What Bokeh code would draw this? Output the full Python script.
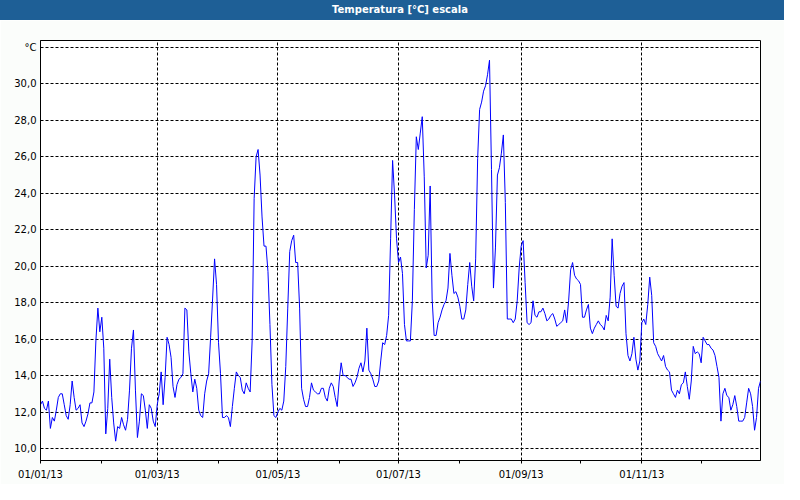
import numpy as np
import pandas as pd
from bokeh.plotting import figure
from bokeh.models import FixedTicker, Range1d, Div
from bokeh.layouts import column
from bokeh.embed import file_html
from bokeh.resources import INLINE

# Daily temperatures (°C), 2013
jan = [12.4, 12.6, 12.2, 12.1, 12.6, 11.1, 11.7, 11.5, 12.1, 12.8, 13.0, 13.0, 12.4, 11.8, 11.6, 12.4,
       13.7, 12.8, 12.1, 12.2, 12.4, 11.4, 11.2, 11.5, 11.9, 12.5, 12.5, 13.1, 15.9, 17.7, 16.4]
feb = [17.2, 15.5, 10.8, 12.2, 14.9, 12.8, 11.4, 10.4, 11.2, 11.1, 11.7, 11.3, 11.0, 11.6, 13.2, 15.5,
       16.5, 13.2, 10.6, 11.5, 13.0, 12.9, 12.1, 11.1, 12.4, 12.2, 11.5, 11.2]
mar = [12.4, 13.0, 14.2, 12.4, 13.9, 16.1, 15.7, 15.0, 13.4, 12.8, 13.5, 13.8, 13.9, 14.1, 17.7, 17.6,
       15.3, 14.1, 13.1, 13.8, 13.3, 12.1, 11.8, 11.7, 13.0, 13.7, 14.1, 16.1, 18.2, 20.4, 19.0]
apr = [15.8, 14.1, 11.7, 11.7, 11.8, 11.7, 11.2, 12.3, 13.3, 14.2, 14.0, 13.9, 13.2, 13.0, 13.6, 13.3,
       13.1, 15.9, 23.7, 26.0, 26.4, 25.0, 22.7, 21.1, 21.1, 19.7, 16.8, 13.5, 11.8, 11.7]
may = [12.0, 12.2, 12.1, 12.6, 14.5, 17.7, 20.8, 21.4, 21.7, 20.2, 20.2, 17.7, 13.3, 12.7, 12.3, 12.3,
       12.8, 13.6, 13.2, 13.1, 13.0, 13.0, 13.3, 13.3, 12.8, 12.6, 13.3, 13.6, 13.4, 12.8, 12.3]
jun = [13.7, 14.7, 14.0, 14.0, 13.9, 13.8, 13.8, 13.4, 13.6, 13.9, 14.4, 14.7, 14.2, 14.8, 16.6, 14.3,
       14.1, 13.8, 13.4, 13.4, 13.7, 14.8, 15.8, 15.7, 16.2, 17.3, 21.5, 25.8, 23.9, 21.5]
jul = [20.2, 20.5, 19.6, 16.8, 15.9, 15.9, 15.9, 18.1, 23.1, 27.1, 26.4, 27.3, 28.2, 24.9, 19.9, 20.6,
       24.4, 18.2, 16.2, 16.2, 16.9, 17.2, 17.6, 17.9, 18.1, 18.8, 20.7, 19.5, 18.5, 18.6, 18.3]
aug = [17.8, 17.1, 17.1, 17.6, 19.0, 20.2, 18.9, 18.1, 20.4, 25.9, 28.6, 29.0, 29.6, 29.9, 30.5, 31.3,
       25.3, 18.8, 21.0, 25.0, 25.4, 26.2, 27.2, 23.5, 17.1, 17.1, 17.1, 16.9, 17.1, 18.1, 19.9]
sep = [21.1, 21.4, 19.1, 16.9, 16.8, 16.9, 18.1, 17.3, 17.2, 17.5, 17.5, 17.7, 17.4, 17.0, 17.1, 17.3,
       17.4, 17.1, 16.7, 16.8, 16.9, 17.0, 17.6, 16.9, 18.1, 19.8, 20.2, 19.5, 19.3, 19.2]
oct_ = [19.0, 17.2, 17.2, 17.6, 17.9, 16.6, 16.3, 16.6, 16.8, 17.0, 16.8, 16.7, 16.5, 17.3, 17.0, 18.3,
        21.5, 19.5, 17.8, 17.7, 18.5, 18.9, 19.1, 16.3, 15.1, 14.8, 15.2, 16.1, 14.9, 14.3, 14.8]
nov = [16.9, 17.1, 16.8, 17.9, 19.4, 18.4, 15.8, 15.6, 15.2, 15.0, 14.8, 15.1, 14.5, 14.3, 14.2, 13.2,
       13.0, 12.8, 13.2, 13.0, 13.5, 13.6, 14.2, 13.4, 12.7, 13.7, 15.6, 15.2, 15.3, 15.2]
dec = [14.7, 16.1, 15.9, 15.7, 15.7, 15.5, 15.4, 15.1, 14.5, 13.9, 11.5, 13.0, 13.3, 12.9, 12.8, 12.1,
       12.4, 12.9, 12.3, 11.5, 11.5, 11.5, 11.7, 12.5, 13.3, 13.0, 12.3, 11.0, 11.7, 13.3, 13.7]

y_ticks = [10, 12, 14, 16, 18, 20, 22, 24, 26, 28, 30, 32]
y_labels = ["10,0", "12,0", "14,0", "16,0", "18,0", "20,0", "22,0", "24,0", "26,0", "28,0", "30,0", "°C"]
title_text = "Temperatura [°C] escala"

temps = jan + feb + mar + apr + may + jun + jul + aug + sep + oct_ + nov + dec
dates = pd.date_range("2013-01-01", periods=len(temps), freq="D")
x = np.arange(len(temps))

month_starts = [int(i) for i, d in enumerate(dates) if d.day == 1]
month_labels = [dates[i].strftime("%d/%m/%y") for i in month_starts]

FONT = "DejaVu Sans"

p = figure(width=784, height=464, output_backend="svg", toolbar_location=None,
           x_range=Range1d(0, len(temps) - 1), y_range=Range1d(9.34, 32.38),
           min_border_left=40, min_border_right=24, min_border_top=20, min_border_bottom=24)
p.background_fill_color = "white"
p.border_fill_color = "#fbfdfb"
p.outline_line_color = "black"
p.outline_line_width = 1

p.line(x, temps, line_color="#0000ff", line_width=1)

# x axis
p.xaxis.ticker = FixedTicker(ticks=month_starts)
p.xaxis.major_label_overrides = {ms: (lab if k % 2 == 0 else "")
                                 for k, (ms, lab) in enumerate(zip(month_starts, month_labels))}
p.xaxis.major_tick_out = 3
p.xaxis.major_tick_in = 0
p.xaxis.minor_tick_line_color = None
p.xaxis.major_label_standoff = 5
p.xgrid.ticker = FixedTicker(ticks=month_starts[::2])

# y axis
p.yaxis.ticker = FixedTicker(ticks=y_ticks)
p.yaxis.major_label_overrides = dict(zip(y_ticks, y_labels))
p.yaxis.major_tick_out = 0
p.yaxis.major_tick_in = 0
p.yaxis.minor_tick_line_color = None
p.yaxis.major_label_standoff = 4

for ax in (p.xaxis, p.yaxis):
    ax.axis_line_color = "black"
    ax.major_tick_line_color = "black"
    ax.major_label_text_font = FONT
    ax.major_label_text_font_size = "10px"
    ax.major_label_text_color = "black"

for g in (p.xgrid, p.ygrid):
    g.grid_line_color = "black"
    g.grid_line_dash = "3 2"
    g.grid_line_width = 1

header = Div(text=title_text, width=784, height=20, margin=0,
             styles={"background-color": "#1e5f96", "color": "white", "text-align": "center",
                     "font-family": FONT, "font-size": "10px", "font-weight": "bold",
                     "line-height": "20px", "padding-left": "16px", "box-sizing": "border-box"})

layout = column(header, p, spacing=0)
open("out.html", "w").write(file_html(layout, INLINE))
